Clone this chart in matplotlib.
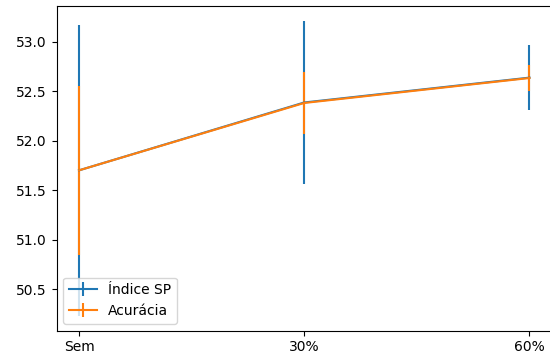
import matplotlib
matplotlib.use('Agg')
import matplotlib.pyplot as plt

podas = ['Sem', '30%', '60%']

# media e desvio padrao por nivel de poda
indice_sp = [51.70, 52.385, 52.636]
indice_sp_std = [1.47, 0.825, 0.33]
acuracia = [51.70, 52.38, 52.632]
acuracia_std = [0.853, 0.31, 0.135]

fig = plt.figure(figsize=(5.5, 3.6), dpi=100)
# eixo passa um pouco da borda direita (spine direita fica fora da imagem)
ax = fig.add_axes([56.5/550, 29.3/360, 500/550, 324.7/360])

ax.errorbar(podas, indice_sp, yerr=indice_sp_std, label='Índice SP')
ax.errorbar(podas, acuracia, yerr=acuracia_std, label='Acurácia')
ax.set_xlim(-0.1, 2.12)
ax.legend(loc='lower left')

fig.savefig('out.png', dpi=100)
